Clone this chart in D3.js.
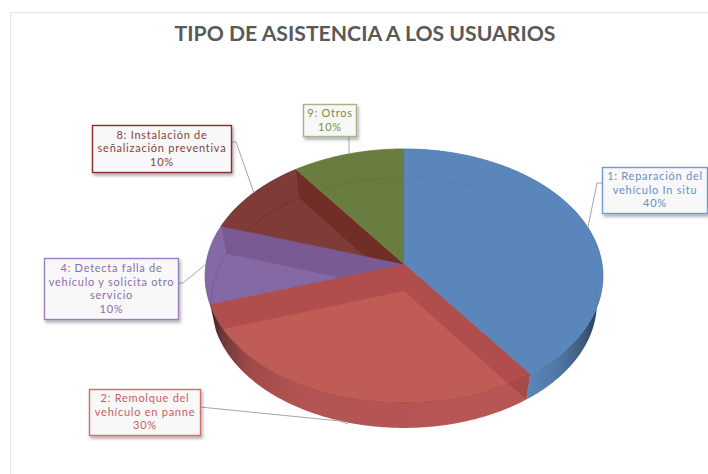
<!DOCTYPE html>
<html>
<head>
<meta charset="utf-8">
<script src="https://cdn.jsdelivr.net/npm/d3@7/dist/d3.min.js"></script>
<style>
html,body{margin:0;padding:0;background:#fff;overflow:hidden}
svg{display:block}
</style>
</head>
<body>
<svg id="chart" width="708" height="474"></svg>
<script>
const title = "TIPO DE ASISTENCIA A LOS USUARIOS";
const categories = ["1: Reparación del vehículo In situ","2: Remolque del vehículo en panne","4: Detecta falla de vehículo y solicita otro servicio","8: Instalación de señalización preventiva","9: Otros"];
const values = [40, 30, 10, 10, 10];
const labelLines = [
  ["1: Reparación del","vehículo In situ","40%"],
  ["2: Remolque del","vehículo en panne","30%"],
  ["4: Detecta falla de","vehículo y solicita otro","servicio","10%"],
  ["8: Instalación de","señalización preventiva","10%"],
  ["9: Otros","10%"]
];

// styling and layout, separate from the data
const topColors  = ["#5a86bc","#c05b56","#8569a5","#7e3a39","#6b7d3f"];
const wallColors = ["#5a86bc","#b04e4d","#7a5a93","#6f2d26","#6b7d3f"];
const rimColors  = ["#5580b4","#a34543","#74588f","#6c2f2d","#62743a"];
const textColors = ["#6590c6","#c9605c","#8a6eaa","#873f3d","#76903f"];
const borderColors = ["#6f9bd1","#cf6d69","#9a7fc0","#8a2f2c","#a3b586"];
const boxes = [
  {x:602,y:167,w:105,h:46,leader:[[602,183],[597,183],[588,227]]},
  {x:89,y:389,w:111,h:46,leader:[[200,407],[340,421],[348,424]]},
  {x:44,y:258,w:134,h:61,leader:[[178,283],[183,283],[206,264]]},
  {x:92,y:125,w:139,h:47,leader:[[231,142],[236,142],[254,193]]},
  {x:303,y:104,w:53,h:32,leader:[[349,136],[349,153]]}
];
const lineStep = 13.6;

const svg = d3.select("#chart");
const defs = svg.append("defs");

const shadow = defs.append("filter").attr("id","shadow")
  .attr("x","-10%").attr("y","-15%").attr("width","125%").attr("height","140%");
shadow.append("feDropShadow").attr("dx",1.5).attr("dy",2.5).attr("stdDeviation",1.6)
  .attr("flood-color","#000").attr("flood-opacity",0.32);
const soften = defs.append("filter").attr("id","soften")
  .attr("x","-5%").attr("y","-5%").attr("width","110%").attr("height","110%");
soften.append("feGaussianBlur").attr("stdDeviation",0.35);

function gradient(id, stops){
  const g = defs.append("linearGradient").attr("id",id)
    .attr("gradientUnits","userSpaceOnUse")
    .attr("x1",200).attr("x2",610).attr("y1",0).attr("y2",0);
  stops.forEach(s => g.append("stop").attr("offset",(s[0]-200)/410).attr("stop-color",s[1]));
}
gradient("sideBlue",[[525,"#5c87b9"],[560,"#4f76a3"],[585,"#3c5878"],[600,"#273a52"]]);
gradient("sideRed",[[208,"#2c1a1a"],[222,"#6d3736"],[250,"#a04c4b"],[300,"#b25352"],[527,"#b95755"]]);

// Perspective discs: a unit circle projected with a depth factor
const topDisc   = {cx:404,cy:264,a:198,b:125.9,k:0.0945};
const lowerDisc = {cx:404,cy:291,a:192,b:124,k:0.0945};
function project(angle, d, radius=1){
  const X = Math.sin(angle)*radius, Y = -Math.cos(angle)*radius, w = 1 - d.k*Y;
  return [d.cx + d.a*X/w, d.cy + d.b*Y/w];
}
const pen = d3.line();
function arcPts(a0,a1,d){
  const n = Math.max(2,Math.ceil(Math.abs(a1-a0)/0.01));
  return d3.range(n+1).map(i => project(a0+(a1-a0)*i/n,d));
}
const slicePath = (s,d) => pen([[d.cx,d.cy],...arcPts(s.startAngle,s.endAngle,d)])+"Z";
const bandPath = s => pen([...arcPts(s.startAngle,s.endAngle,topDisc),...arcPts(s.endAngle,s.startAngle,lowerDisc)])+"Z";
const wallPath = a => pen([[topDisc.cx,topDisc.cy],project(a,topDisc),project(a,lowerDisc),[lowerDisc.cx,lowerDisc.cy]])+"Z";

const slices = d3.pie().sort(null).startAngle(0).endAngle(2*Math.PI)(values);

// frame
svg.append("path").attr("d","M10.5,474V12.5H708").attr("fill","none").attr("stroke","#e2e2e2").attr("stroke-width",1);

const pie = svg.append("g").attr("filter","url(#soften)");

// outer side wall
pie.selectAll("path.side").data(slices.slice(0,2)).join("path").attr("class","side")
  .attr("d",bandPath).attr("fill",(d,i)=>i===0?"url(#sideBlue)":"url(#sideRed)");
// end of the red wedge, seen through the side
pie.append("path").attr("d",wallPath(slices[0].endAngle)).attr("fill","#a64a49");

// top faces
slices.forEach((s,i)=>{
  defs.append("clipPath").attr("id","clip"+i).append("path").attr("d",slicePath(s,topDisc));
  pie.append("path").attr("d",slicePath(s,topDisc)).attr("fill",topColors[i]);
  const g = pie.append("g").attr("clip-path",`url(#clip${i})`);
  slices.forEach(o=>{
    g.append("path").attr("d",wallPath(o.startAngle)).attr("fill",wallColors[i]);
  });
  g.append("path").attr("d",pen(arcPts(0,2*Math.PI,lowerDisc))+"Z")
    .attr("fill","none").attr("stroke",rimColors[i]).attr("stroke-width",0.8);
  pie.append("path").attr("d",pen(arcPts(s.startAngle,s.endAngle,topDisc)))
    .attr("fill","none").attr("stroke",rimColors[i]).attr("stroke-width",0.8);
  pie.append("path").attr("d",pen([[topDisc.cx,topDisc.cy],project(s.startAngle,topDisc)]))
    .attr("fill","none").attr("stroke",rimColors[i]).attr("stroke-width",0.6).attr("stroke-opacity",0.7);
});

// leader lines
svg.append("g").selectAll("path").data(boxes).join("path")
  .attr("d",b=>pen(b.leader)).attr("fill","none").attr("stroke","#a6a6a6").attr("stroke-width",1);

// title
svg.append("text").attr("x",365).attr("y",40.5).attr("text-anchor","middle")
  .attr("font-family","Lato, 'Open Sans', sans-serif").attr("font-weight",700).attr("font-size",21.2)
  .attr("fill","#595959").text(title);

// data labels
const labels = svg.append("g").selectAll("g").data(categories).join("g");
labels.append("rect")
  .attr("x",(d,i)=>boxes[i].x+0.5).attr("y",(d,i)=>boxes[i].y+0.5)
  .attr("width",(d,i)=>boxes[i].w).attr("height",(d,i)=>boxes[i].h)
  .attr("fill","#f8f8f9").attr("stroke",(d,i)=>borderColors[i]).attr("stroke-width",1.4)
  .attr("filter","url(#shadow)");
labels.each(function(d,i){
  const b = boxes[i], lines = labelLines[i];
  const top = b.y + b.h/2 - (lines.length-1)*lineStep/2;
  d3.select(this).selectAll("text").data(lines).join("text")
    .attr("x",b.x+b.w/2+0.5).attr("y",(l,j)=>top+j*lineStep+3.8)
    .attr("text-anchor","middle")
    .attr("font-family","Lato, 'Open Sans', sans-serif").attr("font-size",11)
    .attr("letter-spacing",0.75).attr("fill",textColors[i]).text(l=>l);
});
</script>
</body>
</html>
